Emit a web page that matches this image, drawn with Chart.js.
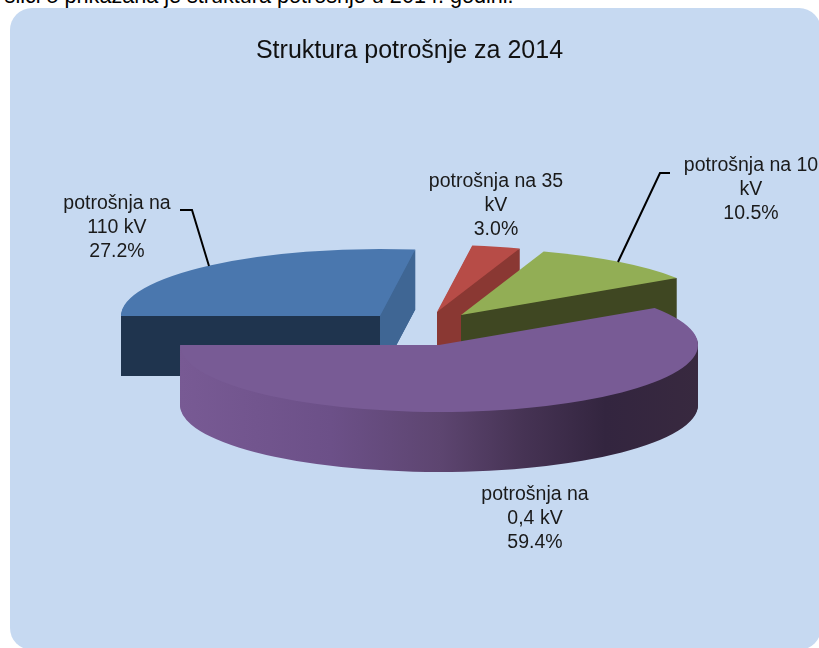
<!DOCTYPE html>
<html><head><meta charset="utf-8">
<script src="https://cdn.jsdelivr.net/npm/chart.js@4/dist/chart.umd.min.js"></script>
<style>
html,body{margin:0;padding:0;background:#fff;width:819px;height:648px;overflow:hidden}
#intro{position:absolute;left:-29px;top:-17px;font:21.6px "Liberation Sans",Arial,sans-serif;color:#000;white-space:nowrap}
#panel{position:absolute;left:10px;top:8px;width:811px;height:642px;border-radius:22px;background:#c6d9f1}
canvas{position:absolute;left:0;top:0}
</style></head><body>
<div id="intro">Na slici 5 prikazana je struktura potrošnje u 2014. godini.</div>
<div id="panel"></div>
<canvas id="c" width="819" height="648"></canvas>
<script>
const categories = ['potrošnja na 110 kV','potrošnja na 35 kV','potrošnja na 10 kV','potrošnja na 0,4 kV'];
const shares = [27.2, 3.0, 10.5, 59.4];
const labelLines = [['potrošnja na','110 kV','27.2%'],['potrošnja na 35','kV','3.0%'],['potrošnja na 10','kV','10.5%'],['potrošnja na','0,4 kV','59.4%']];
const topColors = ['#4a77ae','#b74c47','#92ae55','#785b95'];
const faceStart = ['#1f344e','#8a3833','#8a3833','#785b95'];
const faceEnd = ['#3f6694','#8a3833','#3f4722','#785b95'];
const sliceCenters = [[380,316],[437,312],[461,315],[439,345]];
const labelPos = [[117,204],[496,182],[751,166],[535,495]];
const leaders = [[[180,210],[192,210],[209,266]],null,[[670,173],[660,173],[618,262]],null];
const drawOrder = [0,1,2,3];
const R = 259, K = 0.2587, DEPTH = 60;

function sliceOpts(color){
  return {backgroundColor:color,borderColor:color,borderWidth:0,borderAlign:'center',offset:0,spacing:0,circular:true,borderRadius:0};
}
const pie3d = {
  id:'pie3d',
  beforeDatasetDraw(){ return false; },
  afterDatasetsDraw(chart){
    const ctx = chart.ctx, arcs = chart.getDatasetMeta(0).data;
    const paint = (arc,i,color,dy) => {
      const [cx,cy] = sliceCenters[i];
      const fake = Object.create(arc);
      fake.options = sliceOpts(color); fake.x = 0; fake.y = 0; fake.outerRadius = R; fake.innerRadius = 0;
      ctx.save(); ctx.translate(cx,cy+dy); ctx.scale(1,K);
      Chart.ArcElement.prototype.draw.call(fake,ctx);
      ctx.restore();
    };
    const face = (i,a,color) => {
      const [cx,cy] = sliceCenters[i];
      const ex = cx+R*Math.cos(a), ey = cy+R*K*Math.sin(a);
      ctx.fillStyle = color; ctx.beginPath();
      ctx.moveTo(cx,cy); ctx.lineTo(ex,ey); ctx.lineTo(ex,ey+DEPTH); ctx.lineTo(cx,cy+DEPTH); ctx.closePath(); ctx.fill();
    };
    drawOrder.forEach(i => {
      const arc = arcs[i], [cx] = sliceCenters[i];
      let wall = faceEnd[i];
      if (i === 3) {
        wall = ctx.createLinearGradient(181-cx,0,699-cx,0);
        wall.addColorStop(0,'#785a94'); wall.addColorStop(0.29,'#6c5088'); wall.addColorStop(0.5,'#5d4570');
        wall.addColorStop(0.66,'#463354'); wall.addColorStop(0.82,'#33253f'); wall.addColorStop(1,'#38293f');
      }
      for (let d = DEPTH; d > 0; d--) paint(arc,i,wall,d);
      if (Math.cos(arc.startAngle) < -1e-6 || (i===0)) face(i,arc.startAngle,faceStart[i]);
      if (Math.cos(arc.endAngle) > 1e-6) face(i,arc.endAngle,faceEnd[i]);
      paint(arc,i,topColors[i],0);
    });
    ctx.save();
    ctx.strokeStyle = '#000'; ctx.lineWidth = 2;
    leaders.forEach(l => { if(!l) return; ctx.beginPath(); l.forEach((p,n)=> n?ctx.lineTo(p[0],p[1]):ctx.moveTo(p[0],p[1])); ctx.stroke(); });
    ctx.fillStyle = '#1a1a1a'; ctx.font = '19.5px "Liberation Sans",Arial,sans-serif';
    ctx.textAlign = 'center'; ctx.textBaseline = 'middle';
    labelLines.forEach((ls,i) => ls.forEach((t,n) => ctx.fillText(t,labelPos[i][0],labelPos[i][1]+n*24)));
    ctx.restore();
  }
};
new Chart(document.getElementById('c'),{
  type:'pie',
  data:{labels:categories,datasets:[{data:shares,backgroundColor:topColors,borderWidth:0,radius:R}]},
  options:{
    responsive:false,animation:false,rotation:-90,
    layout:{padding:0},
    plugins:{
      legend:{display:false},tooltip:{enabled:false},
      title:{display:true,text:'Struktura potrošnje za 2014',color:'#111',
        font:{family:'"Liberation Sans",Arial,sans-serif',size:25,weight:'normal'},padding:{top:36,bottom:10}}
    }
  },
  plugins:[pie3d]
});
</script>
</body></html>
